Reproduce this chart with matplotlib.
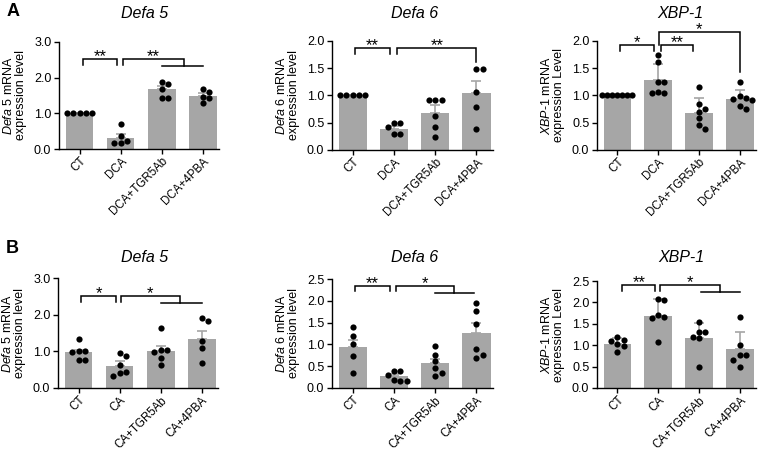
import numpy as np
import matplotlib
matplotlib.use('Agg')
import matplotlib.pyplot as plt

plt.rcParams['font.family'] = ['Liberation Sans', 'DejaVu Sans']
plt.rcParams['mathtext.fontset'] = 'custom'
plt.rcParams['mathtext.rm'] = 'Liberation Sans'
plt.rcParams['mathtext.it'] = 'Liberation Sans:italic'

W, H = 765, 451

# === Data ===
groups_a = ['CT', 'DCA', 'DCA+TGR5Ab', 'DCA+4PBA']
groups_b = ['CT', 'CA', 'CA+TGR5Ab', 'CA+4PBA']

a_defa5_mean = [1.00, 0.32, 1.67, 1.48]
a_defa5_sem = [0.00, 0.11, 0.09, 0.08]
a_defa5_pts = [[1.0, 1.0, 1.0, 1.0, 1.0],
               [0.70, 0.37, 0.22, 0.18, 0.16],
               [1.88, 1.83, 1.67, 1.42, 1.42],
               [1.67, 1.60, 1.46, 1.42, 1.28]]

a_defa6_mean = [1.00, 0.38, 0.67, 1.04]
a_defa6_sem = [0.00, 0.06, 0.15, 0.22]
a_defa6_pts = [[1.0, 1.0, 1.0, 1.0, 1.0],
               [0.50, 0.50, 0.42, 0.30, 0.29],
               [0.91, 0.91, 0.91, 0.62, 0.43, 0.23],
               [1.49, 1.49, 1.07, 0.79, 0.38]]

a_xbp1_mean = [1.00, 1.28, 0.68, 0.94]
a_xbp1_sem = [0.00, 0.29, 0.28, 0.16]
a_xbp1_pts = [[1.0, 1.0, 1.0, 1.0, 1.0, 1.0, 1.0],
              [1.74, 1.61, 1.25, 1.25, 1.06, 1.05, 1.05],
              [1.15, 0.85, 0.75, 0.70, 0.58, 0.46, 0.38],
              [1.25, 0.99, 0.96, 0.93, 0.92, 0.80, 0.76]]

b_defa5_mean = [0.97, 0.60, 1.01, 1.35]
b_defa5_sem = [0.07, 0.13, 0.14, 0.21]
b_defa5_pts = [[1.34, 1.00, 1.00, 0.98, 0.76, 0.76],
               [0.96, 0.88, 0.62, 0.45, 0.40, 0.33],
               [1.65, 1.05, 1.03, 0.99, 0.82, 0.62],
               [1.90, 1.84, 1.28, 1.10, 0.67]]

b_defa6_mean = [0.93, 0.27, 0.57, 1.26]
b_defa6_sem = [0.16, 0.05, 0.10, 0.22]
b_defa6_pts = [[1.39, 1.19, 1.01, 0.73, 0.35],
               [0.40, 0.38, 0.30, 0.18, 0.17, 0.17],
               [0.97, 0.76, 0.61, 0.45, 0.34, 0.27],
               [1.95, 1.76, 1.47, 0.90, 0.76, 0.69]]

b_xbp1_mean = [1.02, 1.68, 1.16, 0.91]
b_xbp1_sem = [0.14, 0.40, 0.37, 0.41]
b_xbp1_pts = [[1.19, 1.13, 1.10, 1.03, 0.98, 0.85],
              [2.09, 2.05, 1.70, 1.67, 1.63, 1.08],
              [1.55, 1.32, 1.30, 1.18, 1.17, 0.48],
              [1.67, 1.00, 0.78, 0.76, 0.66, 0.50]]

BAR = '#a6a6a6'
XMIN, XMAX = -0.5, 3.4


def swarm(vals, xs, ys, d=6.3, lim=15.0):
    # simple beeswarm in pixel space, returns offsets in data units
    placed = []
    offs = np.zeros(len(vals))
    cands = [0.0] + [s * j * d for j in range(1, 12) for s in (1, -1)]
    for i, v in enumerate(vals):
        y = v * ys
        for c in cands:
            if all((c - px) ** 2 + (y - py) ** 2 >= 0.98 * d * d for px, py in placed):
                break
        placed.append((c, y))
        offs[i] = c
    if len(set(np.round(vals, 2))) == 1:
        offs -= (offs.max() + offs.min()) / 2
    m = np.abs(offs).max()
    if m > lim:
        offs *= lim / m
    return offs / xs


def bracket(ax, x1, x2, y, y1, y2, label):
    ax.plot([x1, x1, x2, x2], [y1, y, y, y2], color='black', lw=1.1,
            clip_on=False, solid_joinstyle='miter')
    ax.annotate(label, ((x1 + x2) / 2, y), xytext=(0, -1.5), textcoords='offset points',
                ha='center', va='baseline', fontsize=12, annotation_clip=False)


def panel(rect, groups, means, sems, pts, ymax, ystep, ylabel):
    l, t, w, h = rect
    ax = fig.add_axes([l / W, 1 - (t + h) / H, w / W, h / H])
    x = np.arange(len(groups))
    ax.bar(x, means, width=0.68, color=BAR, zorder=1)
    ax.errorbar(x, means, yerr=[np.zeros(4), sems], fmt='none', ecolor=BAR,
                elinewidth=1.2, capsize=3.6, capthick=1.2, zorder=1.5, clip_on=False)
    xs = w / (XMAX - XMIN)
    ys = h / ymax
    for i, p in enumerate(pts):
        off = swarm(p, xs, ys)
        ax.scatter(x[i] + off, p, s=20, color='black', zorder=3,
                   linewidths=0, clip_on=False)
    ax.set_xlim(XMIN, XMAX)
    ax.set_ylim(0, ymax)
    ticks = np.arange(0, ymax + 1e-9, ystep)
    ax.set_yticks(ticks)
    ax.set_yticklabels(['{:.1f}'.format(v) for v in ticks], fontsize=9)
    ax.set_xticks(x)
    ax.set_xticklabels(groups, rotation=45, ha='right', va='top',
                       rotation_mode='anchor', fontsize=8.3)
    for s in ['top', 'right']:
        ax.spines[s].set_visible(False)
    for s in ['left', 'bottom']:
        ax.spines[s].set_linewidth(1.0)
    ax.tick_params(length=3.5, width=1.0, pad=2)
    ax.tick_params(axis='x', pad=1)
    ax.set_ylabel(ylabel, fontsize=9, linespacing=1.0, labelpad=5)
    return ax


fig = plt.figure(figsize=(W / 100, H / 100), dpi=100)

lab5 = '$\\it{Defa\\ 5}$ mRNA\nexpression level'
lab6 = '$\\it{Defa\\ 6}$ mRNA\nexpression level'
labx = '$\\it{XBP}$-$\\it{1}$ mRNA\nexpression Level'

# === Row A ===
ax = panel((59, 42, 160, 107), groups_a, a_defa5_mean, a_defa5_sem, a_defa5_pts,
           3.0, 1.0, lab5)
bracket(ax, 0.08, 0.92, 2.51, 2.36, 2.36, '**')
bracket(ax, 1.05, 2.55, 2.51, 2.36, 2.33, '**')
ax.plot([2.0, 3.0], [2.33, 2.33], color='black', lw=1.1, clip_on=False)

ax = panel((332, 41, 161, 109), groups_a, a_defa6_mean, a_defa6_sem, a_defa6_pts,
           2.0, 0.5, lab6)
bracket(ax, 0.06, 0.90, 1.87, 1.77, 1.77, '**')
bracket(ax, 1.08, 3.00, 1.87, 1.77, 1.62, '**')

ax = panel((597, 41, 159, 109), groups_a, a_xbp1_mean, a_xbp1_sem, a_xbp1_pts,
           2.0, 0.5, labx)
bracket(ax, 0.07, 0.90, 1.92, 1.82, 1.82, '*')
bracket(ax, 1.07, 1.85, 1.92, 1.82, 1.82, '**')
bracket(ax, 1.02, 3.00, 2.16, 1.93, 1.43, '*')

# === Row B ===
ax = panel((58, 278, 160, 110), groups_b, b_defa5_mean, b_defa5_sem, b_defa5_pts,
           3.0, 1.0, lab5)
bracket(ax, 0.06, 0.92, 2.50, 2.34, 2.34, '*')
bracket(ax, 1.03, 2.47, 2.50, 2.34, 2.31, '*')
ax.plot([2.0, 3.0], [2.31, 2.31], color='black', lw=1.1, clip_on=False)

ax = panel((332, 279, 161, 109), groups_b, b_defa6_mean, b_defa6_sem, b_defa6_pts,
           2.5, 0.5, lab6)
bracket(ax, 0.05, 0.90, 2.33, 2.22, 2.22, '**')
bracket(ax, 1.06, 2.45, 2.33, 2.22, 2.18, '*')
ax.plot([2.0, 2.93], [2.18, 2.18], color='black', lw=1.1, clip_on=False)

ax = panel((597, 281, 159, 107), groups_b, b_xbp1_mean, b_xbp1_sem, b_xbp1_pts,
           2.5, 0.5, labx)
bracket(ax, 0.12, 0.93, 2.41, 2.27, 2.27, '**')
bracket(ax, 1.05, 2.52, 2.41, 2.27, 2.25, '*')
ax.plot([2.04, 3.0], [2.25, 2.25], color='black', lw=1.1, clip_on=False)

# === Titles and panel letters ===
titles = [(145, 13, 'Defa 5'), (415, 13, 'Defa 6'), (680, 13, 'XBP-1'),
          (145, 258, 'Defa 5'), (415, 258, 'Defa 6'), (681, 258, 'XBP-1')]
for tx, ty, s in titles:
    fig.text(tx / W, 1 - ty / H, s, ha='center', va='center', fontsize=11.5,
             fontstyle='italic')
fig.text(13 / W, 1 - 12 / H, 'A', ha='center', va='center', fontsize=13, fontweight='bold')
fig.text(12 / W, 1 - 248 / H, 'B', ha='center', va='center', fontsize=13, fontweight='bold')

fig.savefig('out.png', dpi=100)
